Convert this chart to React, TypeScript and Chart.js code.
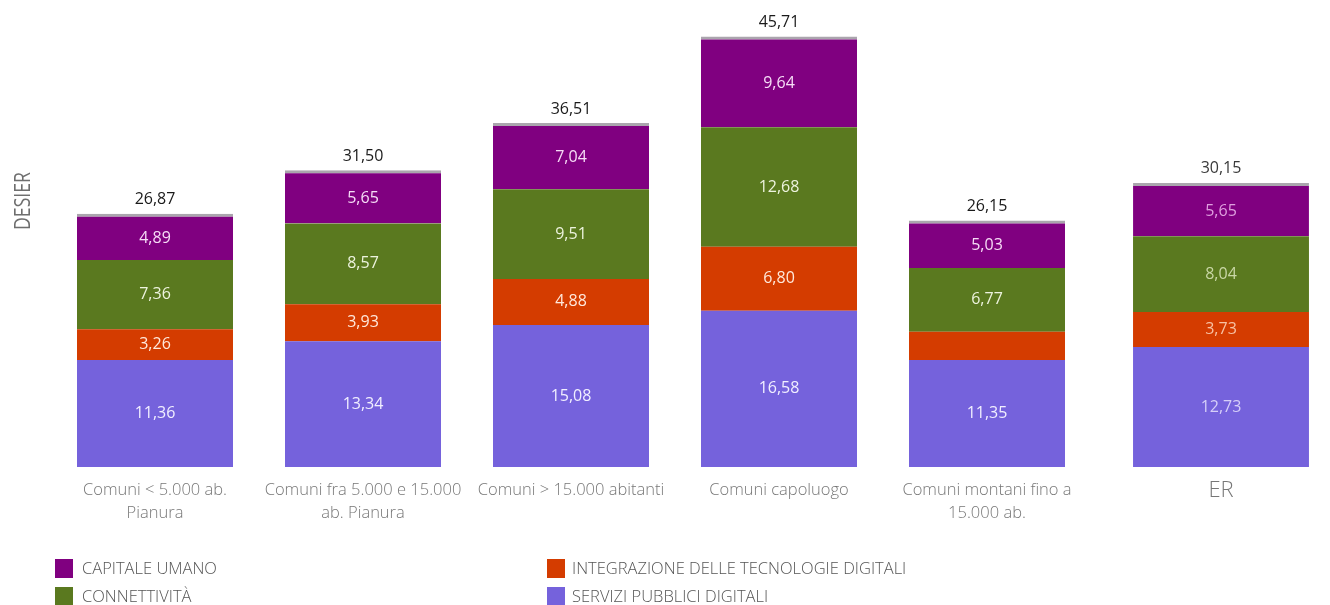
import React, { useEffect, useRef } from "react";
import { Chart, registerables } from "chart.js";

Chart.register(...registerables);

// ---------- DATA ----------
const categories: (string | string[])[] = [
  ["Comuni < 5.000 ab.", "Pianura"],
  ["Comuni fra 5.000 e 15.000", "ab. Pianura"],
  "Comuni > 15.000 abitanti",
  "Comuni capoluogo",
  ["Comuni montani fino a", "15.000 ab."],
];
const regionCategory = ["ER"];

// each series: five groups of municipalities, then ER
const serviziPubblici = [11.36, 13.34, 15.08, 16.58, 11.35, 12.73];
const integrazione = [3.26, 3.93, 4.88, 6.8, 3.0, 3.73];
const connettivita = [7.36, 8.57, 9.51, 12.68, 6.77, 8.04];
const capitaleUmano = [4.89, 5.65, 7.04, 9.64, 5.03, 5.65];
const totals = [26.87, 31.5, 36.51, 45.71, 26.15, 30.15];

const seriesNames = [
  "SERVIZI PUBBLICI DIGITALI",
  "INTEGRAZIONE DELLE TECNOLOGIE DIGITALI",
  "CONNETTIVITÀ",
  "CAPITALE UMANO",
];
const seriesValues = [serviziPubblici, integrazione, connettivita, capitaleUmano];
const seriesColors = ["#7562dc", "#d43c00", "#5a791f", "#800080"];
const labelColors = ["#f1efff", "#ffe9dc", "#edf3de", "#f6dcf6"];
const regionLabelColors = ["#d6cff8", "#f7c2a4", "#c9d7a6", "#df9fdf"];
// segment labels not shown in the reference: [seriesIndex, categoryIndex]
const hiddenLabels = [[1, 4]];

const axisTitle = "DESIER";
const legendOrder = [3, 2, 1, 0];

const FONT = "'Open Sans', 'DejaVu Sans', sans-serif";
const fmt = (v: number) => v.toFixed(2).replace(".", ",");

const AXIS_H = 56;
const fixFit = (h: number) => (scale: any) => {
  scale.paddingLeft = 0;
  scale.paddingRight = 0;
  scale.paddingTop = 0;
  scale.paddingBottom = 0;
  scale.height = h;
};

export default function App() {
  const ref = useRef<HTMLCanvasElement | null>(null);

  useEffect(() => {
    document.body.style.margin = "0";
    const canvas = ref.current;
    if (!canvas) return;

    const common = {
      borderColor: "#aaa5ad",
      borderSkipped: false,
      categoryPercentage: 1,
      grouped: false,
    };
    const datasets: any[] = [];
    seriesValues.forEach((vals, s) => {
      datasets.push({
        ...common,
        label: seriesNames[s],
        data: vals.slice(0, 5),
        xAxisID: "x",
        backgroundColor: seriesColors[s],
        borderWidth: s === 3 ? { top: 3, left: 0, right: 0, bottom: 0 } : 0,
        barPercentage: 0.75,
        _series: s,
        _region: false,
      });
    });
    seriesValues.forEach((vals, s) => {
      datasets.push({
        ...common,
        label: seriesNames[s],
        data: vals.slice(5, 6),
        xAxisID: "x2",
        backgroundColor: seriesColors[s],
        borderWidth: s === 3 ? { top: 3, left: 0, right: 0, bottom: 0 } : 0,
        barPercentage: 0.807,
        _series: s,
        _region: true,
      });
    });

    const labelPlugin = {
      id: "labels",
      afterDatasetsDraw(chart: any) {
        const ctx = chart.ctx;
        ctx.save();
        ctx.textAlign = "center";
        ctx.textBaseline = "middle";
        chart.data.datasets.forEach((ds: any, di: number) => {
          const meta = chart.getDatasetMeta(di);
          meta.data.forEach((el: any, i: number) => {
            const s = ds._series;
            const catIndex = ds._region ? 5 + i : i;
            if (hiddenLabels.some((h) => h[0] === s && h[1] === catIndex)) return;
            const v = ds.data[i];
            ctx.font = `400 16px ${FONT}`;
            ctx.fillStyle = ds._region ? regionLabelColors[s] : labelColors[s];
            const top = s === 3 ? el.y + 3 : el.y;
            ctx.fillText(fmt(v), el.x, (top + el.base) / 2);
            if (s === 3) {
              ctx.font = ds._region ? `400 16px ${FONT}` : `500 16px ${FONT}`;
              ctx.fillStyle = ds._region ? "#3a3a3a" : "#1a1a1a";
              ctx.fillText(fmt(totals[catIndex]), el.x, el.y - 14);
            }
          });
        });
        ctx.restore();
      },
    };

    const decorPlugin = {
      id: "decor",
      afterDraw(chart: any) {
        const ctx = chart.ctx;
        ctx.save();
        // axis title
        ctx.translate(24, 201);
        ctx.rotate(-Math.PI / 2);
        ctx.scale(0.84, 1);
        ctx.font = `400 21px ${FONT}`;
        ctx.fillStyle = "#6e6e6e";
        ctx.textAlign = "center";
        ctx.textBaseline = "middle";
        ctx.fillText(axisTitle, 0, 0);
        ctx.restore();

        // legend
        ctx.save();
        ctx.font = `300 16.5px ${FONT}`;
        ctx.textBaseline = "middle";
        ctx.textAlign = "left";
        legendOrder.forEach((s, k) => {
          const col = Math.floor(k / 2);
          const row = k % 2;
          const x = col === 0 ? 55 : 547;
          const y = 568 + row * 28;
          ctx.fillStyle = seriesColors[s];
          ctx.fillRect(x, y - 9, 18, 19);
          ctx.fillStyle = "#555555";
          ctx.fillText(seriesNames[s], x + (col === 0 ? 27 : 25), y + 1);
        });
        ctx.restore();
      },
    };

    const chart = new Chart(canvas, {
      type: "bar",
      data: { datasets },
      plugins: [labelPlugin, decorPlugin],
      options: {
        animation: false,
        responsive: true,
        maintainAspectRatio: false,
        layout: { autoPadding: false, padding: { left: 51, right: 0, top: 10, bottom: 605 - 467 - AXIS_H } },
        plugins: { legend: { display: false }, tooltip: { enabled: false } },
        scales: {
          x: {
            type: "category",
            labels: categories as any,
            position: "bottom",
            offset: true,
            stack: "xstack",
            stackWeight: 1040,
            stacked: true,
            afterFit: fixFit(AXIS_H),
            grid: { display: false, drawTicks: false },
            border: { display: false },
            ticks: {
              autoSkip: false,
              maxRotation: 0,
              padding: 12,
              color: "#777777",
              font: { family: FONT, size: 16.5, weight: 300, lineHeight: 1.394 },
            },
          },
          xs: {
            type: "category",
            labels: [""],
            position: "bottom",
            stack: "xstack",
            stackWeight: 21,
            afterFit: fixFit(0),
            grid: { display: false, drawTicks: false },
            border: { display: false },
            ticks: { display: false },
          },
          x2: {
            type: "category",
            labels: regionCategory,
            position: "bottom",
            offset: true,
            stack: "xstack",
            stackWeight: 218,
            stacked: true,
            afterFit: fixFit(AXIS_H),
            grid: { display: false, drawTicks: false },
            border: { display: false },
            ticks: {
              autoSkip: false,
              maxRotation: 0,
              padding: 9,
              color: "#777777",
              font: { family: FONT, size: 22, weight: 300, lineHeight: 1.3 },
            },
          },
          y: {
            display: false,
            stacked: true,
            min: 0,
            max: 48.5,
          },
        },
      } as any,
    });

    return () => chart.destroy();
  }, []);

  return (
    <div style={{ position: "absolute", left: 0, top: 0, width: 1330, height: 605 }}>
      <canvas ref={ref} />
    </div>
  );
}
